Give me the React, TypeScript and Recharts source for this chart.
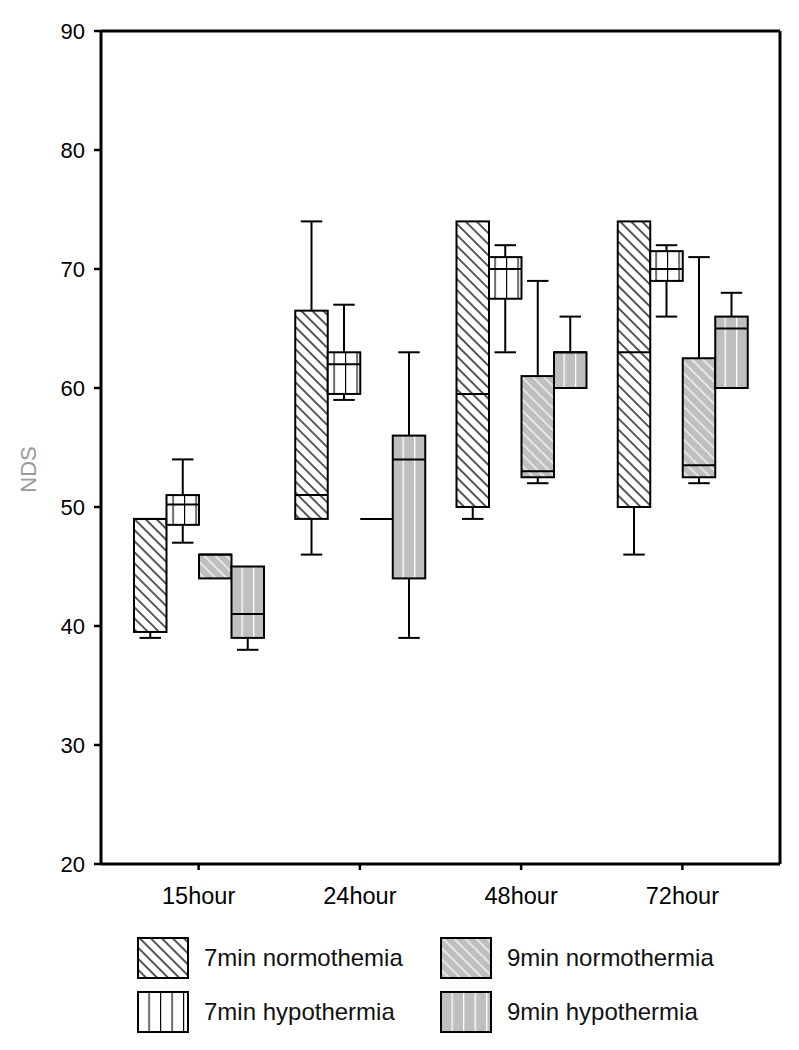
import React from 'react';
import { ComposedChart, Bar, XAxis, YAxis, ReferenceLine } from 'recharts';

// Categories (time points)
const categories = ['15hour', '24hour', '48hour', '72hour'];
// Five-number summaries per time point: [min, q1, median, q3, max]
const normo7 = [
  [39, 39.5, 49, 49, 49],
  [46, 49, 51, 66.5, 74],
  [49, 50, 59.5, 74, 74],
  [46, 50, 63, 74, 74],
];
const hypo7 = [
  [47, 48.5, 50.2, 51, 54],
  [59, 59.5, 62, 63, 67],
  [63, 67.5, 70, 71, 72],
  [66, 69, 70, 71.5, 72],
];
const normo9 = [
  [44, 44, 46, 46, 46],
  [49, 49, 49, 49, 49],
  [52, 52.5, 53, 61, 69],
  [52, 52.5, 53.5, 62.5, 71],
];
const hypo9 = [
  [38, 39, 41, 45, 45],
  [39, 44, 54, 56, 63],
  [60, 60, 63, 63, 66],
  [60, 60, 65, 66, 68],
];
const yTicks = [20, 30, 40, 50, 60, 70, 80, 90];
const seriesNames = ['7min normothemia', '7min hypothermia', '9min normothermia', '9min hypothermia'];
const seriesKeys = ['n7', 'h7', 'n9', 'h9'];
const seriesFills = ['url(#diagBlack)', 'url(#vertBlack)', 'url(#diagWhite)', 'url(#vertWhite)'];

const data = categories.map((cat, i) => ({
  cat,
  n7: normo7[i],
  h7: hypo7[i],
  n9: normo9[i],
  h9: hypo9[i],
}));

const FONT = '"Liberation Sans", Arial, Helvetica, sans-serif';
const GRAY = '#bfbfbf';

const PatternDefs = () => (
  <defs>
    <pattern id="diagBlack" patternUnits="userSpaceOnUse" width={7.8} height={7.8} patternTransform="rotate(-45)">
      <rect width={7.8} height={7.8} fill="#fff" />
      <line x1={1} y1={0} x2={1} y2={7.8} stroke="#000" strokeWidth={1.3} />
    </pattern>
    <pattern id="diagWhite" patternUnits="userSpaceOnUse" width={7.8} height={7.8} patternTransform="rotate(-45)">
      <rect width={7.8} height={7.8} fill={GRAY} />
      <line x1={1} y1={0} x2={1} y2={7.8} stroke="#fff" strokeWidth={1.2} />
    </pattern>
    <pattern id="vertBlack" patternUnits="userSpaceOnUse" width={11.5} height={10}>
      <rect width={11.5} height={10} fill="#fff" />
      <line x1={0.5} y1={0} x2={0.5} y2={10} stroke="#000" strokeWidth={1.3} />
    </pattern>
    <pattern id="vertWhite" patternUnits="userSpaceOnUse" width={11.5} height={10}>
      <rect width={11.5} height={10} fill={GRAY} />
      <line x1={0.5} y1={0} x2={0.5} y2={10} stroke="#fff" strokeWidth={1.6} />
    </pattern>
  </defs>
);

const makeShape = (key: string, fill: string) => (props: any) => {
  const { x, y, width, height, payload } = props;
  const s = payload[key] as number[];
  const [mn, q1, md, q3, mx] = s;
  const top = Math.min(y, y + height);
  const bot = Math.max(y, y + height);
  const px = (v: number) => (mx === mn ? top : bot - ((v - mn) / (mx - mn)) * (bot - top));
  const cx = x + width / 2;
  const cap = width * 0.66;
  const sw = 2;
  return (
    <g>
      {mx > q3 && (
        <g stroke="#000" strokeWidth={sw}>
          <line x1={cx} x2={cx} y1={px(q3)} y2={px(mx)} />
          <line x1={cx - cap / 2} x2={cx + cap / 2} y1={px(mx)} y2={px(mx)} />
        </g>
      )}
      {mn < q1 && (
        <g stroke="#000" strokeWidth={sw}>
          <line x1={cx} x2={cx} y1={px(q1)} y2={px(mn)} />
          <line x1={cx - cap / 2} x2={cx + cap / 2} y1={px(mn)} y2={px(mn)} />
        </g>
      )}
      <rect x={x} y={px(q3)} width={width} height={Math.max(0, px(q1) - px(q3))} fill={fill} stroke="#000" strokeWidth={sw} />
      <line x1={x} x2={x + width} y1={px(md)} y2={px(md)} stroke="#000" strokeWidth={sw} />
    </g>
  );
};

const NdsLabel = (props: any) => {
  const vb = props.viewBox || { x: 0, y: 31, width: 101, height: 833 };
  const cx = vb.x + 28;
  const cy = vb.y + vb.height / 2 + 22;
  return (
    <text
      x={cx}
      y={cy}
      transform={`rotate(-90, ${cx}, ${cy})`}
      textAnchor="middle"
      dominantBaseline="central"
      fill="#999"
      fontSize={22}
      fontFamily={FONT}
    >
      NDS
    </text>
  );
};

const Swatch = ({ fill }: { fill: string }) => (
  <svg width={52} height={42} style={{ display: 'block' }}>
    <PatternDefs />
    <rect x={1} y={1} width={50} height={40} fill={fill} stroke="#000" strokeWidth={2} />
  </svg>
);

export default function App() {
  const legendPos = [
    { left: 137, top: 937 },
    { left: 137, top: 991 },
    { left: 440, top: 937 },
    { left: 440, top: 991 },
  ];
  return (
    <div style={{ position: 'absolute', left: 0, top: 0, width: 799, height: 1050, background: '#fff', fontFamily: FONT }}>
      <ComposedChart
        width={799}
        height={920}
        data={data}
        margin={{ top: 31, right: 18, bottom: 0, left: 0 }}
        barGap={0}
        barSize={32.5}
      >
        <PatternDefs />
        <XAxis
          dataKey="cat"
          height={56}
          padding={{ left: 17, right: 17 }}
          tickSize={6}
          tickMargin={17}
          axisLine={{ stroke: '#000', strokeWidth: 3 }}
          tickLine={{ stroke: '#000', strokeWidth: 2.5 }}
          tick={{ fill: '#000', fontSize: 23.5, fontFamily: FONT }}
        />
        <YAxis
          domain={[20, 90]}
          ticks={yTicks}
          allowDataOverflow
          width={101}
          tickSize={7}
          tickMargin={9}
          axisLine={{ stroke: '#000', strokeWidth: 3 }}
          tickLine={{ stroke: '#000', strokeWidth: 2.5 }}
          tick={{ fill: '#000', fontSize: 22, fontFamily: FONT }}
          label={<NdsLabel />}
        />
        <YAxis
          yAxisId="right"
          orientation="right"
          domain={[20, 90]}
          width={1}
          tick={false}
          tickLine={false}
          axisLine={{ stroke: '#000', strokeWidth: 3 }}
        />
        <ReferenceLine y={90} stroke="#000" strokeWidth={3} ifOverflow="visible" />
        {seriesKeys.map((k, i) => (
          <Bar
            key={k}
            name={seriesNames[i]}
            dataKey={(d: any) => [d[k][0], d[k][4]]}
            shape={makeShape(k, seriesFills[i])}
            isAnimationActive={false}
          />
        ))}
      </ComposedChart>
      {seriesNames.map((name, i) => (
        <div
          key={name}
          style={{ position: 'absolute', left: legendPos[i].left, top: legendPos[i].top, display: 'flex', alignItems: 'center', height: 42 }}
        >
          <Swatch fill={seriesFills[i]} />
          <span style={{ marginLeft: 15, fontSize: 24, color: '#111', whiteSpace: 'nowrap' }}>{name}</span>
        </div>
      ))}
    </div>
  );
}
